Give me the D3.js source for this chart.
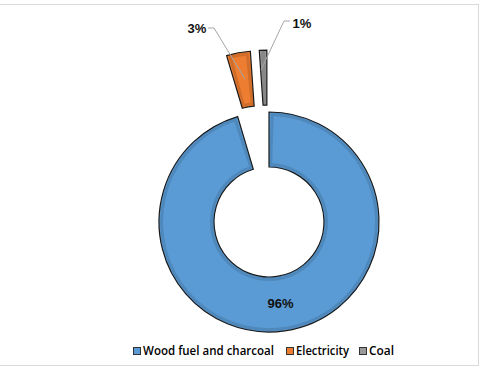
<!DOCTYPE html>
<html><head><meta charset="utf-8">
<script src="https://cdn.jsdelivr.net/npm/d3@7"></script>
<style>html,body{margin:0;padding:0;background:#fff;}svg{display:block;}</style>
</head><body>
<svg id="c" width="480" height="371"></svg>
<script>
const categories = ["Wood fuel and charcoal", "Electricity", "Coal"];
const values = [95.4, 3.5, 1.1];
const labels = ["96%", "3%", "1%"];
const colors = ["#5b9bd5", "#ed7d31", "#9a9a9a"];
const explode = [0, 62, 62];

const svg = d3.select("#c");
// frame
svg.append("line").attr("x1",0).attr("x2",479).attr("y1",4.5).attr("y2",4.5).attr("stroke","#d9d9d9");
svg.append("line").attr("x1",0).attr("x2",479).attr("y1",365.5).attr("y2",365.5).attr("stroke","#d9d9d9");
svg.append("line").attr("x1",478.5).attr("x2",478.5).attr("y1",4).attr("y2",366).attr("stroke","#d9d9d9");

const cx = 269, cy = 222, rOut = 110, rIn = 55;
const pie = d3.pie().sort(null).value(d => d)(values);
const arc = d3.arc().innerRadius(rIn).outerRadius(rOut);
const bevel = d3.arc().innerRadius(rIn + 2.5).outerRadius(rOut - 2.5);
const g = svg.append("g").attr("transform", `translate(${cx},${cy})`);

pie.forEach((p, i) => {
  const mid = (p.startAngle + p.endAngle) / 2;
  const dx = Math.sin(mid) * explode[i], dy = -Math.cos(mid) * explode[i];
  const sg = g.append("g").attr("transform", `translate(${dx},${dy})`);
  sg.append("path").attr("d", arc(p)).attr("fill", colors[i]).attr("stroke", "#1a1a1a").attr("stroke-width", 1.2);
  const inset = 2.5 / ((rIn + rOut) / 2);
  const bp = {startAngle: p.startAngle + inset, endAngle: p.endAngle - inset};
  if (bp.endAngle > bp.startAngle)
    sg.append("path").attr("d", bevel(bp)).attr("fill", "none").attr("stroke", "rgba(0,0,0,0.12)").attr("stroke-width", 3);
});

// data labels
const font = "'Liberation Sans', Arial, sans-serif";
g.append("text").attr("x", 280.5 - cx).attr("y", 308 - cy).attr("text-anchor", "middle")
  .attr("font-family", font).attr("font-weight", "bold").attr("font-size", 13).attr("fill", "#111").text(labels[0]);

const leaderFrom = [null, [[208,28],[214,28],[245,79]], [[290,21],[284,21],[261,70]]];
const labelPos = [null, [197, 33, "middle"], [302, 28, "middle"]];
[1, 2].forEach(i => {
  svg.append("path").attr("d", d3.line()(leaderFrom[i])).attr("fill", "none").attr("stroke", "#a6a6a6").attr("stroke-width", 1);
  svg.append("text").attr("x", labelPos[i][0]).attr("y", labelPos[i][1]).attr("text-anchor", labelPos[i][2])
    .attr("font-family", font).attr("font-weight", "bold").attr("font-size", 13).attr("fill", "#111").text(labels[i]);
});

// legend
const legX = [133, 286, 359];
const legW = [131, 53, 25];
const lg = svg.append("g");
categories.forEach((c, i) => {
  lg.append("rect").attr("x", legX[i] + 0.5).attr("y", 347.5).attr("width", 7).attr("height", 7)
    .attr("fill", colors[i]).attr("stroke", "#333").attr("stroke-width", 1);
  lg.append("text").attr("x", legX[i] + 10).attr("y", 355).attr("font-family", "'Open Sans', 'DejaVu Sans', sans-serif")
    .attr("font-size", 12).attr("font-weight", 600).attr("fill", "#000").attr("textLength", legW[i]).attr("lengthAdjust", "spacingAndGlyphs").text(c);
});
</script>
</body></html>
